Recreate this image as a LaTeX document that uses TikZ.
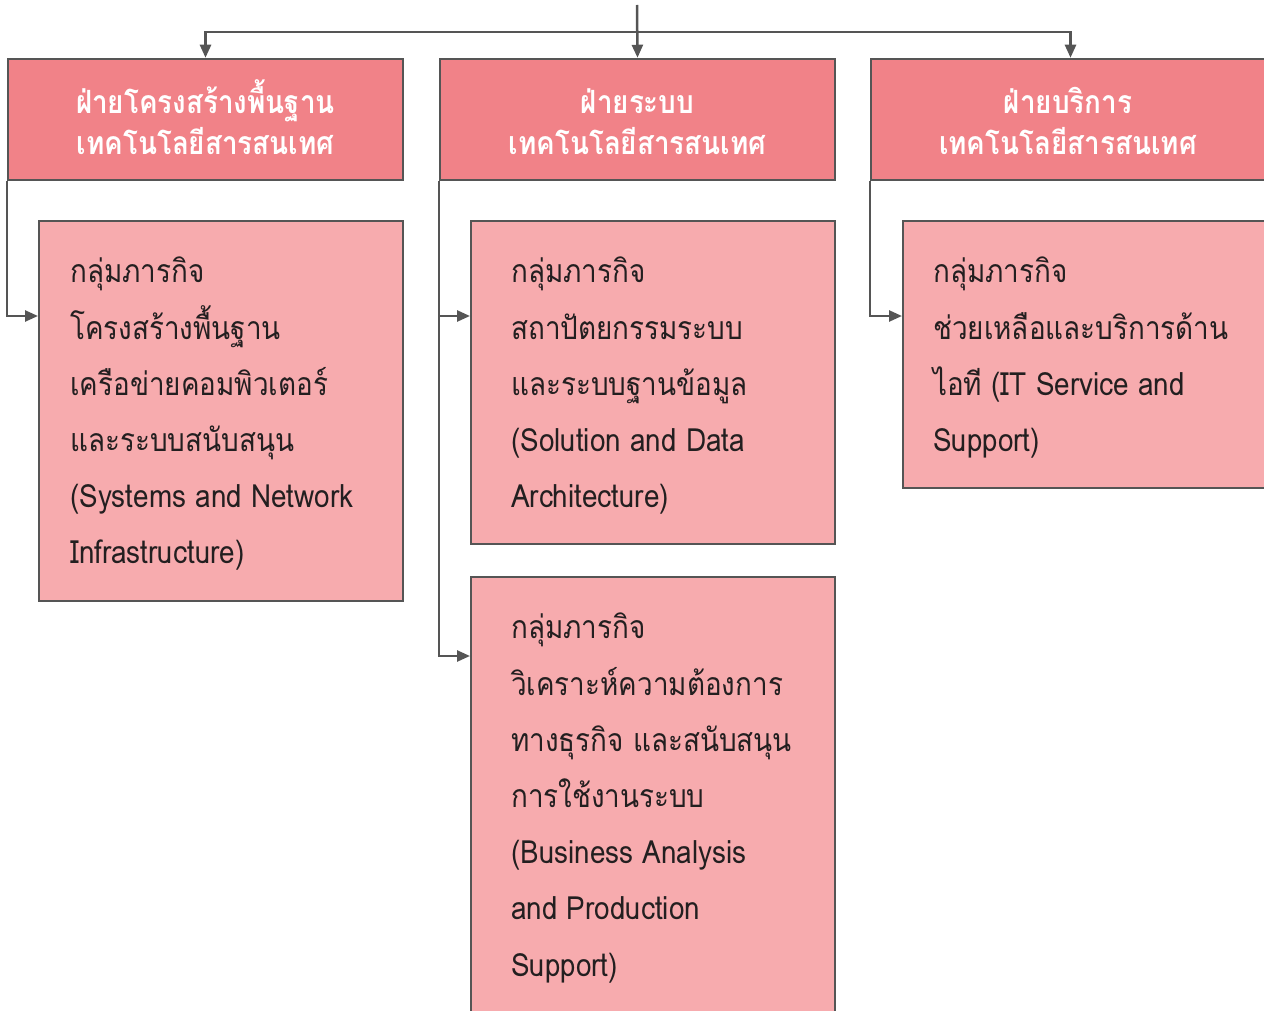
\documentclass[tikz,border=0pt]{standalone}
\usepackage{fontspec}
\newfontfamily\thaifont[Script=Thai,FakeStretch=0.87]{Loma}
\usetikzlibrary{arrows.meta}
\definecolor{hfill}{RGB}{241,130,136}
\definecolor{sfill}{RGB}{247,171,174}
\definecolor{lcol}{RGB}{85,85,85}
\definecolor{tcol}{RGB}{35,31,32}
\newcommand{\tstrut}{\rule{0pt}{36pt}}
\newcommand{\bstrut}{\rule[-10pt]{0pt}{10pt}}
\tikzset{
  hbox/.style={draw=lcol,line width=2.5pt,fill=hfill,minimum height=121pt,inner sep=0pt},
  sbox/.style={draw=lcol,line width=2pt,fill=sfill,inner sep=0pt},
  htext/.style={text=white,align=center,inner sep=0pt,font=\thaifont\bfseries\fontsize{32}{41}\selectfont},
  stext/.style={text=tcol,align=left,anchor=north west,inner sep=0pt,font=\thaifont\fontsize{32}{56.2}\selectfont},
  arr/.style={draw=lcol,line width=2.5pt,-{Triangle[length=13pt,width=11pt]}}
}
\begin{document}
\begin{tikzpicture}[x=1pt,y=-1pt]
\useasboundingbox (0,0) rectangle (1264,1011);
% header boxes
\node[hbox,minimum width=395pt] (h1) at (205.5,119.5) {};
\node[hbox,minimum width=395pt] (h2) at (637.5,119.5) {};
\node[hbox,minimum width=399pt] (h3) at (1070.5,119.5) {};
\node[htext] (h1t) at (205.5,121) {\tstrut ฝ่ายโครงสร้างพื้นฐาน\\เทคโนโลยีสารสนเทศ\bstrut};
\node[htext] (h2t) at (637.5,121) {\tstrut ฝ่ายระบบ\\เทคโนโลยีสารสนเทศ\bstrut};
\node[htext] (h3t) at (1068,121) {\tstrut ฝ่ายบริการ\\เทคโนโลยีสารสนเทศ\bstrut};
% sub boxes
\node[sbox,minimum width=364pt,minimum height=380pt] (s1) at (221,411) {};
\node[sbox,minimum width=364pt,minimum height=323pt] (s2a) at (653,382.5) {};
\node[sbox,minimum width=364pt,minimum height=443pt] (s2b) at (653,798.5) {};
\node[sbox,minimum width=367pt,minimum height=267pt] (s3) at (1086.5,354.5) {};
\node[stext] (s1t) at (70,257) {กลุ่มภารกิจ\\โครงสร้างพื้นฐาน\\เครือข่ายคอมพิวเตอร์\\และระบบสนับสนุน\\(Systems and Network\\Infrastructure)};
\node[stext] (s2at) at (511,257) {กลุ่มภารกิจ\\สถาปัตยกรรมระบบ\\และระบบฐานข้อมูล\\(Solution and Data\\Architecture)};
\node[stext] (s2bt) at (511,613) {กลุ่มภารกิจ\\วิเคราะห์ความต้องการ\\ทางธุรกิจ และสนับสนุน\\การใช้งานระบบ\\(Business Analysis\\and Production\\Support)};
\node[stext] (s3t) at (933,257) {กลุ่มภารกิจ\\ช่วยเหลือและบริการด้าน\\ไอที (IT Service and\\Support)};
% connectors
\coordinate (top) at (637,5);
\coordinate (j) at (637,32);
\draw[arr] (top) -- (h2.north);
\draw[arr] (j) -| (h1.north);
\draw[arr] (j) -| (h3.north);
\draw[arr] (h1.south west) |- (s1.west |- 0,316);
\draw[arr] (h2.south west) |- (s2a.west |- 0,316);
\draw[arr] (h2.south west) |- (s2b.west |- 0,656);
\draw[arr] (h3.south west) |- (s3.west |- 0,316);
\end{tikzpicture}
\end{document}
